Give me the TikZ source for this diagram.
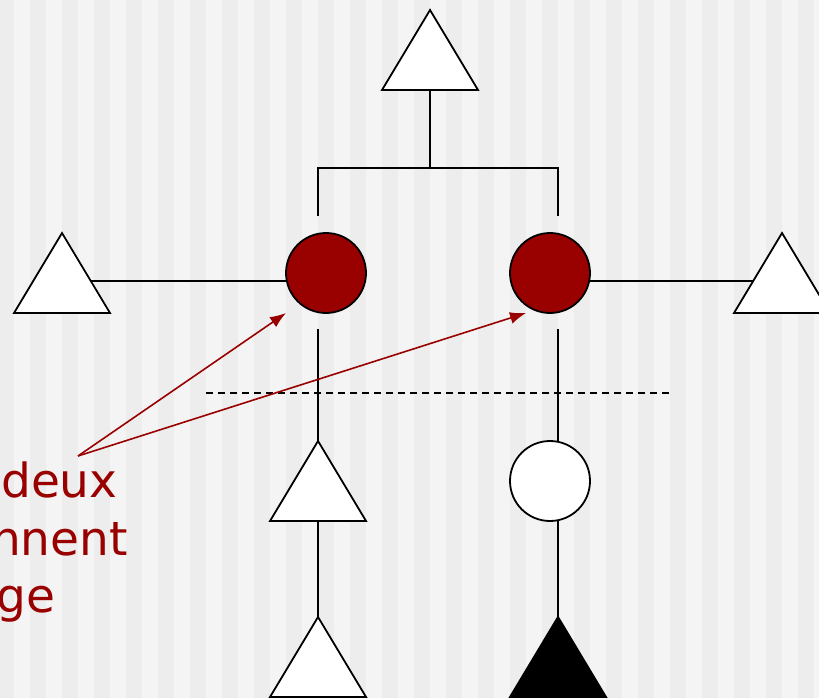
\documentclass[tikz,border=0pt]{standalone}
\usepackage{fontspec}
\newfontfamily\labelfont{DejaVu Sans}
\usetikzlibrary{shapes.geometric,arrows.meta}
\definecolor{stripeA}{HTML}{EDEDED}
\definecolor{stripeB}{HTML}{F4F4F4}
\definecolor{deepred}{HTML}{990000}
\pgfdeclarelayer{stripes}
\pgfdeclarelayer{links}
\pgfsetlayers{stripes,links,main}
\tikzset{
  tri/.style={isosceles triangle, isosceles triangle stretches,
    shape border rotate=90, minimum width=96pt, minimum height=80pt,
    inner sep=0pt, outer sep=0pt, draw=black, line width=1.8pt, fill=white},
  disc/.style={circle, minimum size=80pt, inner sep=0pt, outer sep=0pt,
    draw=black, line width=1.8pt},
  link/.style={draw=black, line width=1.8pt},
  pointer/.style={draw=deepred, line width=1.6pt,
    -{Latex[length=16pt,width=12pt]}},
  note/.style={text=deepred, font=\labelfont\fontsize{47}{57}\selectfont,
    inner sep=0pt, anchor=base west},
}
\begin{document}
\begin{tikzpicture}[x=1pt, y=-1pt]
\useasboundingbox (0,0) rectangle (819,698);
\clip (0,0) rectangle (819,698);

% striped backdrop
\begin{pgfonlayer}{stripes}
  \fill[stripeA] (0,0) rectangle (819,698);
  \foreach \k in {0,...,25}
    \fill[stripeB] ({14+32*\k},0) rectangle ({30+32*\k},698);
\end{pgfonlayer}

% tree shapes
\node[tri, anchor=apex] (T) at (430,10) {};
\node[disc, fill=deepred] (R1) at (326,273) {};
\node[disc, fill=deepred] (R2) at (550,273) {};
\node[tri, anchor=apex] (L) at (62,233) {};
\node[tri, anchor=apex] (Rt) at (782,233) {};
\node[tri, anchor=apex] (M) at (318,441) {};
\node[tri, anchor=apex] (B1) at (318,617) {};
\node[disc, fill=white] (W) at (550,481) {};
\node[tri, anchor=apex, fill=black] (K) at (558,617) {};

% junction points
\coordinate (jt) at (430,168);
\coordinate (jl) at (318,168);
\coordinate (jr) at (558,168);
\coordinate (bl) at (318,216);
\coordinate (br) at (558,216);
\coordinate (ul) at (318,329);
\coordinate (ur) at (558,329);
\coordinate (hl) at ([yshift=-8pt]R1.west);
\coordinate (hr) at ([yshift=-8pt]R2.east);
\coordinate (d1) at (206,393);
\coordinate (d2) at (670,393);
\coordinate (tail) at (78,456);

\begin{pgfonlayer}{links}
  \draw[link] (T.lower side) -- (jt);
  \draw[link] (bl) -- (jl) -- (jr) -- (br);
  \draw[link] (hl) -- (L.apex |- hl);
  \draw[link] (hr) -- (Rt.apex |- hr);
  \draw[link] (ul) -- (M.apex);
  \draw[link] (M.lower side) -- (B1.apex);
  \draw[link] (ur) -- ([xshift=8pt]W.center);
  \draw[link] ([xshift=8pt]W.center) -- (K.apex);
\end{pgfonlayer}

\draw[black, line width=1.4pt, dash pattern=on 7pt off 5pt] (d1) -- (d2);

% labels and pointers
\node[note] (n1) at (1,497) {deux};
\node[note] (n2) at (-9,555) {nnent};
\node[note] (n3) at (-4,612) {ge};
\draw[pointer] (tail) -- ([shift={(-40,40)}]R1.center);
\draw[pointer] (tail) -- ([shift={(-24,40)}]R2.center);
\end{tikzpicture}
\end{document}
